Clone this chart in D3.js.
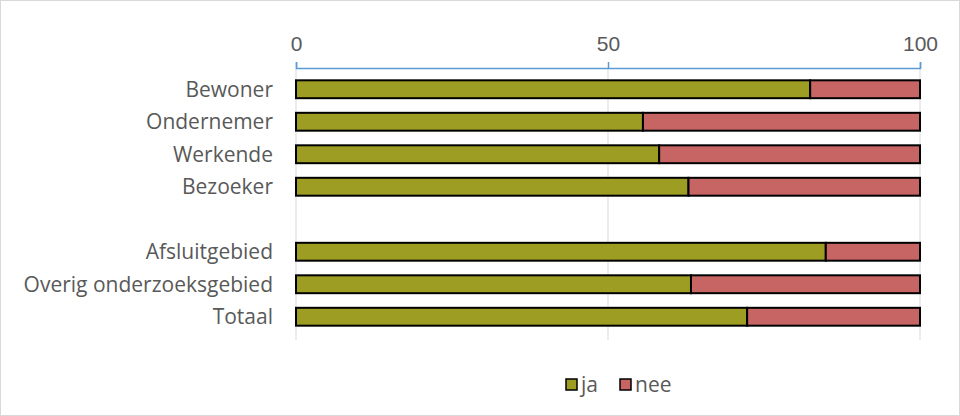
<!DOCTYPE html>
<html>
<head>
<meta charset="utf-8">
<script src="https://cdn.jsdelivr.net/npm/d3@7"></script>
<style>
  body { margin: 0; background: #fff; }
  svg { display: block; font-family: "Open Sans", "Noto Sans", sans-serif; }
</style>
</head>
<body>
<svg width="960" height="416"></svg>
<script>
// categories (blank row separates the two groups)
var categories = ["Bewoner", "Ondernemer", "Werkende", "Bezoeker", "", "Afsluitgebied", "Overig onderzoeksgebied", "Totaal"];
var ja  = [82.4, 55.6, 58.2, 62.9, null, 84.9, 63.3, 72.3];
var nee = [17.6, 44.4, 41.8, 37.1, null, 15.1, 36.7, 27.7];
var seriesNames = ["ja", "nee"];
var ticks = [0, 50, 100];

var colors = {ja: "#9d9d23", nee: "#c76564"};

var svg = d3.select("svg"),
  margin = {top: 68, right: 40, bottom: 76, left: 296},
  width = 960 - margin.left - margin.right,
  height = 416 - margin.top - margin.bottom;

// outer chart border
svg.append("rect")
  .attr("x", 0.5).attr("y", 0.5)
  .attr("width", 959).attr("height", 415)
  .attr("fill", "#fff")
  .attr("stroke", "#d9d9d9");

var g = svg.append("g").attr("transform", "translate(" + margin.left + "," + margin.top + ")");

var x = d3.scaleLinear().domain([0, 100]).range([0, width]);
var y = d3.scaleBand().domain(categories.map(function(d, i) { return i; }))
  .range([5, 265]).paddingInner(0.45).paddingOuter(0.225);

// gridlines
g.selectAll(".grid")
  .data(ticks)
  .enter().append("line")
  .attr("x1", function(d) { return x(d); })
  .attr("x2", function(d) { return x(d); })
  .attr("y1", 0).attr("y2", height)
  .attr("stroke", "#d9d9d9")
  .attr("stroke-width", 1);

// top axis
var axis = g.append("g")
  .call(d3.axisTop(x).tickValues(ticks).tickSize(6).tickPadding(11));
axis.select(".domain").attr("stroke", "#5b9bd5").attr("stroke-width", 1.5);
axis.selectAll(".tick line").attr("stroke", "#5b9bd5").attr("stroke-width", 1.5);
axis.selectAll(".tick text")
  .attr("fill", "#595959")
  .style("font-size", "21px");

// stacked bars
var rows = categories.map(function(c, i) {
  return {i: i, name: c, ja: ja[i], nee: nee[i]};
}).filter(function(d) { return d.ja != null; });

var stack = d3.stack().keys(seriesNames)(rows);

g.selectAll(".series")
  .data(stack)
  .enter().append("g")
  .attr("fill", function(s) { return colors[s.key]; })
  .selectAll("rect")
  .data(function(s) { return s; })
  .enter().append("rect")
  .attr("x", function(d) { return x(d[0]); })
  .attr("width", function(d) { return x(d[1]) - x(d[0]); })
  .attr("y", function(d) { return y(d.data.i); })
  .attr("height", y.bandwidth())
  .attr("stroke", "#000")
  .attr("stroke-width", 2);

// category labels
g.selectAll(".label")
  .data(categories)
  .enter().append("text")
  .attr("x", -23)
  .attr("y", function(d, i) { return y(i) + y.bandwidth() / 2; })
  .attr("dy", "0.35em")
  .attr("text-anchor", "end")
  .attr("fill", "#595959")
  .style("font-size", "21px")
  .text(function(d) { return d; });

// legend
var legend = svg.append("g").attr("transform", "translate(566,385)");
var lx = [0, 54];
seriesNames.forEach(function(k, i) {
  var item = legend.append("g").attr("transform", "translate(" + lx[i] + ",0)");
  item.append("rect")
    .attr("x", 0).attr("y", -6)
    .attr("width", 11).attr("height", 11)
    .attr("fill", colors[k])
    .attr("stroke", "#000")
    .attr("stroke-width", 1.5);
  item.append("text")
    .attr("x", 15).attr("y", 0).attr("dy", "0.35em")
    .attr("fill", "#595959")
    .style("font-size", "21px")
    .text(k);
});
</script>
</body>
</html>
